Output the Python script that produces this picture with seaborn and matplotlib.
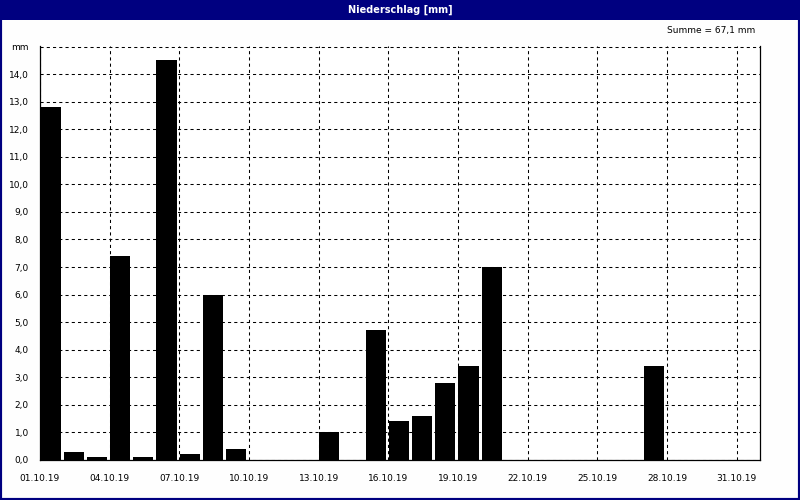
import numpy as np
import pandas as pd
import matplotlib
matplotlib.use('Agg')
import matplotlib.pyplot as plt
import seaborn as sns
from matplotlib.patches import Rectangle

days = list(range(1, 32))
rain = [12.8, 0.3, 0.1, 7.4, 0.1, 14.5, 0.2, 6.0, 0.4, 0.0,
        0.0, 0.0, 1.0, 0.0, 4.7, 1.4, 1.6, 2.8, 3.4, 7.0,
        0.0, 0.0, 0.0, 0.0, 0.0, 0.0, 3.4, 0.0, 0.0, 0.0, 0.0]
tick_days = list(range(1, 32, 3))
tick_labels = ['%02d.10.19' % d for d in tick_days]
y_labels = ['%d,0' % v for v in range(15)] + ['mm']

df = pd.DataFrame({'day': days, 'rain': rain})
# bars start at the day tick, so shift the centre by half a bar width
df['pos'] = df['day'] - 1 + 0.45

sns.set_style('white')
plt.rcParams['font.family'] = ['DejaVu Sans']
plt.rcParams['text.color'] = 'black'
plt.rcParams['xtick.color'] = 'black'
plt.rcParams['ytick.color'] = 'black'

fig = plt.figure(figsize=(8, 5), dpi=100)
fig.patch.set_facecolor('#fefefe')
ax = fig.add_axes([0.05, 0.08, 0.90, 0.828])

sns.barplot(data=df, x='pos', y='rain', native_scale=True, width=0.87,
            color='black', saturation=1, edgecolor='black', linewidth=0,
            errorbar=None, ax=ax, zorder=3)

ax.set_xlim(0, 31)
ax.set_ylim(0, 15.02)
ax.set_xticks([d - 1 for d in tick_days])
ax.set_xticklabels(tick_labels, fontsize=6.5, color='black')
ax.set_xticks(range(0, 31), minor=True)
ax.set_yticks(range(16))
ax.set_yticklabels(y_labels, fontsize=6.5, color='black')
ax.set_xlabel('')
ax.set_ylabel('')
ax.tick_params(axis='x', which='both', direction='out', length=4, width=0.75, color='black', pad=6)
ax.tick_params(axis='y', which='both', direction='out', length=2, width=0.75, color='black', pad=6)
ax.grid(True, axis='both', which='major', color='black', linestyle=(0, (3, 3)), linewidth=0.75, zorder=1)
ax.set_axisbelow(True)
for s in ['left', 'bottom', 'right']:
    ax.spines[s].set_visible(True)
    ax.spines[s].set_color('black')
    ax.spines[s].set_linewidth(0.9)
ax.spines['top'].set_visible(False)

# window frame and title bar
fig.patches.append(Rectangle((0, 0), 1, 1, transform=fig.transFigure, fill=False,
                             edgecolor='#000080', linewidth=3, zorder=10))
fig.patches.append(Rectangle((0, 1 - 20 / 500), 1, 20 / 500, transform=fig.transFigure,
                             facecolor='#000080', edgecolor='none', zorder=10))
fig.text(0.5, 1 - 10 / 500, 'Niederschlag [mm]', color='white', fontsize=7, fontweight='bold',
         ha='center', va='center', zorder=11)
summe = ('Summe = %.1f mm' % sum(rain)).replace('.', ',')
fig.text(755 / 800, 1 - 31 / 500, summe, fontsize=6.5, color='black', ha='right', va='center')

fig.savefig('out.png', dpi=100, facecolor=fig.get_facecolor())
